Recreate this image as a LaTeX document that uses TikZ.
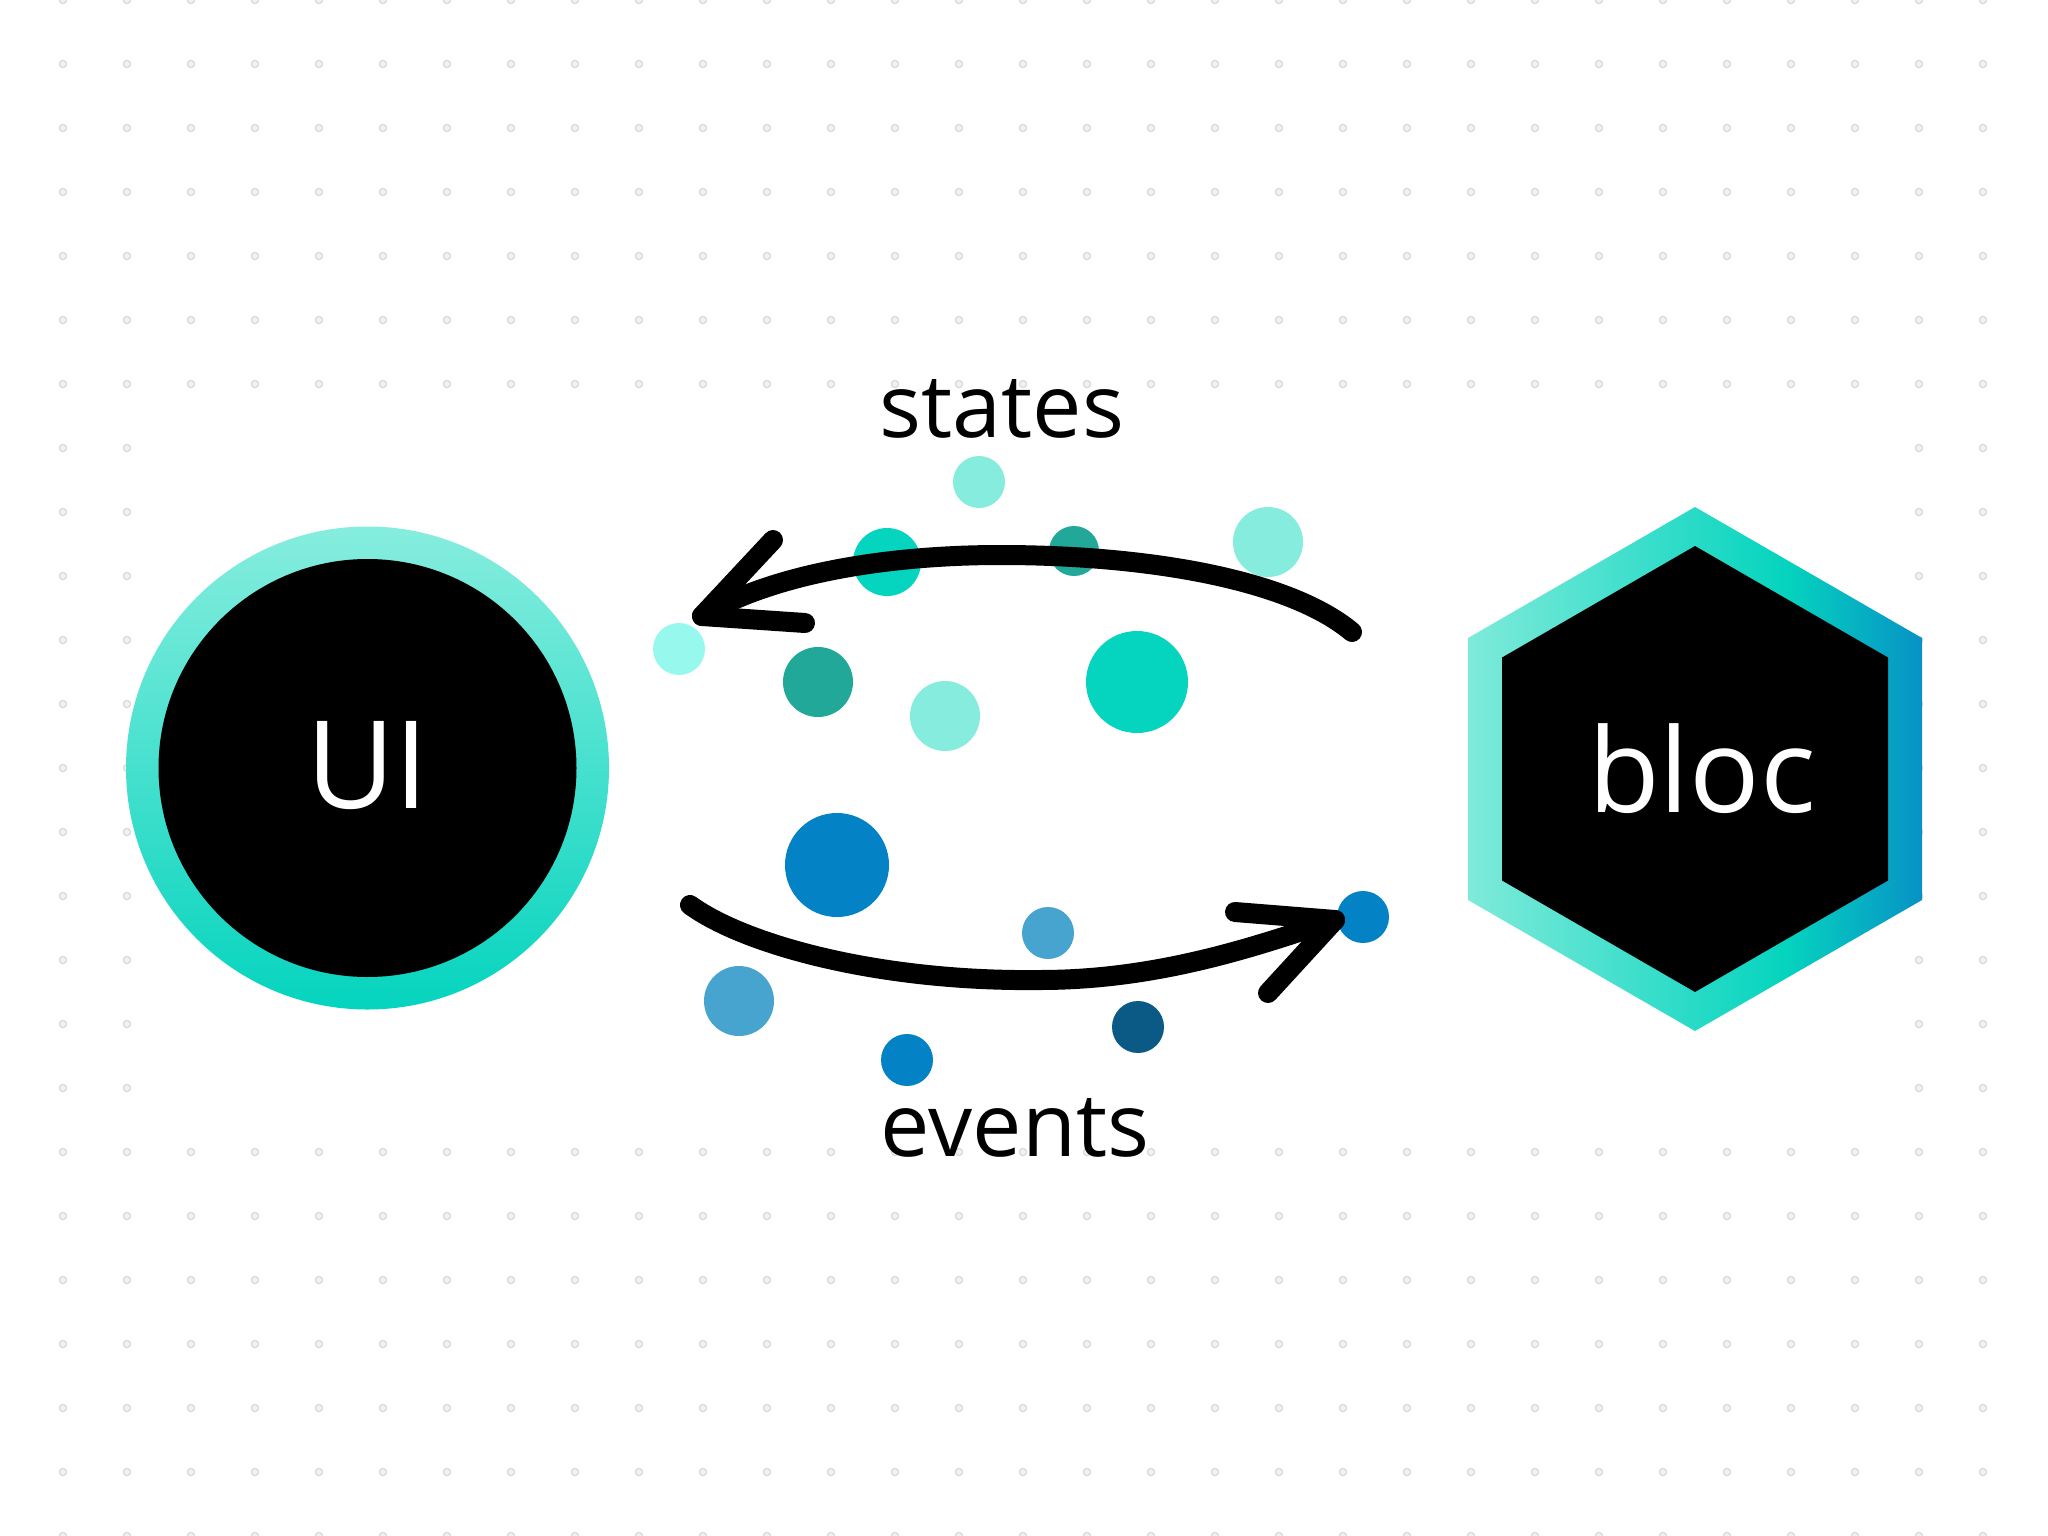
\documentclass[tikz,border=0pt]{standalone}
\usepackage{fontspec}
\setmainfont{Open Sans}
\usetikzlibrary{shapes.geometric}
\definecolor{mintL}{HTML}{86EDDE}
\definecolor{mintH}{HTML}{7FEADA}
\definecolor{turq}{HTML}{2EDCC8}
\definecolor{tealC}{HTML}{05D4BE}
\definecolor{tealD}{HTML}{22A898}
\definecolor{cyanL}{HTML}{97F9ED}
\definecolor{blueC}{HTML}{0383C5}
\definecolor{blueL}{HTML}{47A4CF}
\definecolor{blueD}{HTML}{0A5A85}
\definecolor{hexBlue}{HTML}{0792C6}
\definecolor{gridDot}{HTML}{D9D9D9}
\definecolor{gridFill}{HTML}{F1F1F1}
\pgfdeclarehorizontalshading{hexshade}{100bp}{color(0bp)=(mintH); color(25bp)=(mintH); color(48bp)=(turq); color(60bp)=(tealC); color(75bp)=(hexBlue); color(100bp)=(hexBlue)}
\tikzset{
  blob/.style={circle, inner sep=0pt, draw=none},
  arrowline/.style={line width=20pt, black, line cap=round, line join=round},
  bigtext/.style={text=white, anchor=base, inner sep=0pt},
  labeltext/.style={text=black, anchor=base, inner sep=0pt, font=\fontsize{88}{100}\selectfont}
}
\begin{document}
\begin{tikzpicture}[x=1pt,y=-1pt]
\useasboundingbox (0,0) rectangle (2048,1536);
\fill[white] (0,0) rectangle (2048,1536);
% dotted grid
\foreach \i in {0,...,30}{
  \foreach \j in {0,...,24}{
    \path[draw=gridDot, fill=gridFill, line width=1.2pt] (63+64*\i, 64*\j) circle[radius=3.6pt];
  }
}
% white panel behind the diagram
\fill[white] (160,416) rectangle (1890,1120);

% UI circle
\path[shade, top color=mintL, bottom color=tealC] (367.5,768) circle[radius=241.5pt];
\fill[black] (367.5,768) circle[radius=209pt];
\node[bigtext, font=\fontsize{122}{130}\selectfont] (ui) at (367.5,808) {UI};

% bloc hexagon
\path[shade, shading=hexshade] (1695,507) -- (1922,638) -- (1922,900) -- (1695,1031) -- (1468,900) -- (1468,638) -- cycle;
\fill[black] (1695,546) -- (1888,657.5) -- (1888,880.5) -- (1695,992) -- (1502,880.5) -- (1502,657.5) -- cycle;
\node[bigtext, font=\fontsize{117}{130}\selectfont] (bloc) at (1702,812) {bloc};

% labels
\node[labeltext] (states) at (1002,437) {states};
\node[labeltext] (events) at (1015,1156) {events};

% state dots
\node[blob, fill=mintL,  minimum size=52pt]  (s1) at (979,482) {};
\node[blob, fill=tealC,  minimum size=68pt]  (s2) at (887,562) {};
\node[blob, fill=tealD,  minimum size=50pt]  (s3) at (1074,551) {};
\node[blob, fill=mintL,  minimum size=70pt]  (s4) at (1268,542) {};
\node[blob, fill=cyanL,  minimum size=52pt]  (s5) at (679,649) {};
\node[blob, fill=tealD,  minimum size=70pt]  (s6) at (818,682) {};
\node[blob, fill=mintL,  minimum size=70pt]  (s7) at (945,716) {};
\node[blob, fill=tealC,  minimum size=102pt] (s8) at (1137,682) {};

% event dots
\node[blob, fill=blueC, minimum size=104pt] (e1) at (837,865) {};
\node[blob, fill=blueL, minimum size=52pt]  (e2) at (1048,933) {};
\node[blob, fill=blueC, minimum size=52pt]  (e3) at (1363,917) {};
\node[blob, fill=blueL, minimum size=70pt]  (e4) at (739,1001) {};
\node[blob, fill=blueC, minimum size=52pt]  (e5) at (907,1060) {};
\node[blob, fill=blueD, minimum size=52pt]  (e6) at (1138,1027) {};

% states arrow (bloc -> UI)
\coordinate (sStart) at (1352,632);
\coordinate (sMid) at (1000,555);
\coordinate (sTip) at (702,616);
\coordinate (sUp) at (773,540);
\coordinate (sLow) at (805,623);
\draw[arrowline] (sStart) .. controls (1290,580) and (1150,555) .. (sMid) .. controls (900,555) and (780,570) .. (sTip);
\draw[arrowline] (sUp) -- (sTip) -- (sLow);

% events arrow (UI -> bloc)
\coordinate (eStart) at (690,905);
\coordinate (eMid) at (1040,980);
\coordinate (eTip) at (1335,920);
\coordinate (eUp) at (1235,912);
\coordinate (eLow) at (1268,993);
\draw[arrowline] (eStart) .. controls (745,945) and (880,982) .. (eMid) .. controls (1160,980) and (1260,945) .. (eTip);
\draw[arrowline] (eUp) -- (eTip) -- (eLow);
\end{tikzpicture}
\end{document}
